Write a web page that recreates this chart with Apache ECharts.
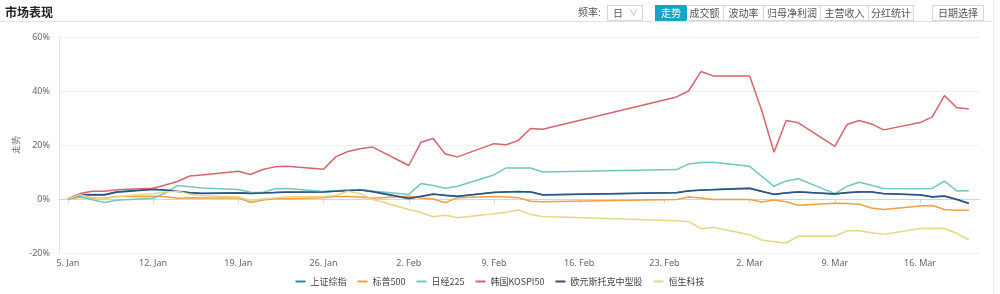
<!DOCTYPE html>
<html>
<head>
<meta charset="utf-8">
<script src="https://cdn.jsdelivr.net/npm/echarts@6/dist/echarts.min.js"></script>
<style>
  html, body { margin:0; padding:0; background:#fff; }
  body { width:1000px; height:294px; position:relative; overflow:hidden; font-family:"Noto Sans CJK SC","Noto Sans",sans-serif; }
  #chart { position:absolute; left:0; top:0; width:1000px; height:294px; }
  .hdr { position:absolute; font-size:10px; color:#555; line-height:14px; white-space:nowrap; }
  #title { left:5px; top:4px; font-size:12px; font-weight:bold; color:#222; line-height:16px; }
  #hline { position:absolute; left:0; top:21px; width:993px; height:1px; background:#e2e2e2; }
  #vline { position:absolute; left:993px; top:0; width:1px; height:294px; background:#ececec; }
  .box { position:absolute; top:5px; height:14px; border:1px solid #d8d8d8; box-sizing:content-box; font-size:10px; color:#555; line-height:14px; text-align:center; }
  .grp { position:absolute; top:5px; height:14px; font-size:10px; line-height:14px; text-align:center; color:#555; border-top:1px solid #d8d8d8; border-bottom:1px solid #d8d8d8; border-right:1px solid #d8d8d8; }
</style>
</head>
<body>
<div id="chart"></div>
<div id="hline"></div>
<div id="vline"></div>
<div id="title" class="hdr">市场表现</div>
<div class="hdr" style="left:578px;top:5px;color:#555;">频率:</div>
<div class="box" style="left:607px;width:34px;text-align:left;"><span style="margin-left:5px;">日</span><span style="position:absolute;left:21px;color:#aaa;font-size:9px;">∨</span></div>
<div class="grp" style="left:655px;width:30px;background:#19a3c6;color:#fff;border-color:#19a3c6;border-left:1px solid #19a3c6;">走势</div>
<div class="grp" style="left:686px;width:37px;">成交额</div>
<div class="grp" style="left:724px;width:39px;">波动率</div>
<div class="grp" style="left:764px;width:56px;">归母净利润</div>
<div class="grp" style="left:821px;width:47px;">主营收入</div>
<div class="grp" style="left:869px;width:44px;">分红统计</div>
<div class="box" style="left:932px;width:50px;">日期选择</div>
<script>
const dates = ['2026-01-05','2026-01-06','2026-01-07','2026-01-08','2026-01-09',
 '2026-01-12','2026-01-13','2026-01-14','2026-01-15','2026-01-16',
 '2026-01-19','2026-01-20','2026-01-21','2026-01-22','2026-01-23',
 '2026-01-26','2026-01-27','2026-01-28','2026-01-29','2026-01-30',
 '2026-02-02','2026-02-03','2026-02-04','2026-02-05','2026-02-06',
 '2026-02-09','2026-02-10','2026-02-11','2026-02-12','2026-02-13',
 '2026-02-24','2026-02-25','2026-02-26','2026-02-27',
 '2026-03-02','2026-03-03','2026-03-04','2026-03-05','2026-03-06',
 '2026-03-09','2026-03-10','2026-03-11','2026-03-12','2026-03-13',
 '2026-03-16','2026-03-17','2026-03-18','2026-03-19','2026-03-20'];

const seriesNames = ['上证综指','标普500','日经225','韩国KOSPI50','欧元斯托克中型股','恒生科技'];

const shangzheng = [0,1.7,1.7,1.7,2.7, 3.7,3.2,2.8,2.4,2.1, 2.3,2.2,2.3,2.4,2.6, 2.7,3.0,3.2,3.4,2.7,
 0.1,1.0,1.9,1.3,0.9, 2.5,2.7,2.7,2.7,1.5, 2.4,3.1,3.2,3.5, 4.1,2.9,1.7,2.3,2.7,
 1.8,2.4,2.7,2.7,1.9, 1.6,0.7,1.0,-0.2,-1.7];
const sp500 = [0,0.6,0.3,0.3,0.9, 1.0,0.8,0.3,0.5,0.4, 0.4,-1.3,-0.4,0.1,0.1, 0.5,0.9,0.9,0.7,0.3,
 1.0,0.4,0.0,-1.4,0.5, 0.9,0.7,0.5,-0.8,-1.0, -0.2,0.7,0.4,-0.2, -0.2,-1.1,-0.4,-1.0,-2.3,
 -1.6,-1.7,-1.9,-3.3,-3.9, -2.6,-2.4,-3.9,-4.2,-4.2];
const nikkei = [0,1.0,-0.3,-1.3,-0.5, 0.3,2.2,5.0,4.5,4.1, 3.5,2.5,2.4,3.8,3.9, 2.8,3.1,3.3,3.5,3.0,
 1.7,5.7,5.0,4.0,4.7, 8.9,11.5,11.5,11.5,10.0, 10.9,13.0,13.5,13.6, 12.1,8.4,4.7,6.7,7.5,
 2.0,4.7,6.2,5.1,3.9, 3.8,3.9,6.6,3.0,3.1];
const kospi = [0,2.0,2.9,2.9,3.4, 4.0,5.2,6.5,8.5,8.9, 10.3,9.1,10.9,11.9,12.1, 11.0,15.6,17.6,18.6,19.3,
 12.4,21.0,22.4,16.7,15.6, 20.5,20.1,21.7,26.1,25.8, 37.8,40.1,47.2,45.6, 45.6,32.7,17.3,29.1,28.2,
 19.5,27.6,29.1,27.8,25.6, 28.3,30.4,38.3,33.9,33.3];
const eurostoxx = [0,1.5,1.6,1.5,2.5, 3.5,3.3,2.9,2.3,2.0, 2.2,2.0,2.2,2.4,2.5, 2.6,2.9,3.1,3.3,2.8,
 0.3,0.9,1.8,1.4,1.0, 2.4,2.6,2.8,2.6,1.6, 2.3,3.0,3.3,3.4, 3.9,2.8,1.8,2.2,2.6,
 1.9,2.3,2.6,2.6,2.0, 1.5,0.8,1.1,-0.1,-1.6];
const hstech = [0,1.6,0.5,0.0,0.8, 2.0,2.6,2.9,1.8,1.2, 0.8,-0.6,0.0,0.4,0.8, 0.9,1.3,2.9,2.0,-0.1,
 -3.9,-5.0,-6.6,-6.0,-6.9, -5.5,-4.9,-4.1,-5.7,-6.5, -8.1,-8.4,-11.0,-10.5, -13.2,-15.2,-15.8,-16.3,-13.8,
 -13.8,-11.8,-11.8,-12.5,-13.1, -10.9,-10.8,-10.9,-12.7,-15.1];

const yTicks = [-20, 0, 20, 40, 60];
const xTickDates = ['2026-01-05','2026-01-12','2026-01-19','2026-01-26','2026-02-02','2026-02-09','2026-02-16','2026-02-23','2026-03-02','2026-03-09','2026-03-16'];
const monthNames = ['Jan','Feb','Mar','Apr','May','Jun','Jul','Aug','Sep','Oct','Nov','Dec'];
const colors = ['#2f87ad','#f0a040','#72c6c3','#d6646c','#33517f','#e6d685'];

const DAY = 86400000;
function ts(s){ const p = s.split('-').map(Number); return Date.UTC(p[0], p[1]-1, p[2]); }
const base = ts(dates[0]);
const xMin = base - 0.73*DAY;
const xMax = base + 74.92*DAY;
const allVals = [shangzheng, sp500, nikkei, kospi, eurostoxx, hstech];

const chart = echarts.init(document.getElementById('chart'), null, {renderer:'canvas'});
chart.setOption({
  animation:false,
  color: colors,
  grid:{ left:59, top:37, width:921, height:216, containLabel:false },
  legend:{
    bottom: 3, left:'center',
    icon:'rect', itemWidth:10, itemHeight:2, itemGap:11,
    textStyle:{ fontSize:9, color:'#444', fontFamily:'"Noto Sans CJK SC", sans-serif' },
    data: seriesNames
  },
  xAxis:{
    type:'value', min:xMin, max:xMax,
    axisLine:{ show:true, lineStyle:{ color:'#ccd6eb', width:1 } },
    axisTick:{ show:true, length:4, lineStyle:{ color:'#ccd6eb' }, customValues: xTickDates.map(ts) },
    splitLine:{ show:false },
    axisLabel:{
      customValues: xTickDates.map(ts),
      fontSize:9, color:'#666', margin:6,
      fontFamily:'"Noto Sans", sans-serif',
      formatter: function(v){ const d = new Date(v); return d.getUTCDate() + '. ' + monthNames[d.getUTCMonth()]; }
    }
  },
  yAxis:{
    type:'value', min:yTicks[0], max:yTicks[yTicks.length-1], interval:20,
    name:'走势', nameLocation:'middle', nameRotate:90, nameGap:38, nameMoveOverlap:false,
    nameTextStyle:{ fontSize:9, color:'#666' },
    axisLine:{ show:true, lineStyle:{ color:'#dfe3ea' } },
    axisTick:{ show:false },
    splitLine:{ show:true, lineStyle:{ color:'#f0f0f0', width:1 } },
    axisLabel:{ fontSize:9, color:'#666', margin:9, formatter:'{value}%', fontFamily:'"Noto Sans", sans-serif' }
  },
  series: seriesNames.map(function(n, i){
    return {
      name:n, type:'line', showSymbol:false, symbol:'none',
      lineStyle:{ width:1.5 },
      emphasis:{ disabled:true },
      data: dates.map(function(d, j){ return [ts(d), allVals[i][j]]; })
    };
  })
});
</script>
</body>
</html>
